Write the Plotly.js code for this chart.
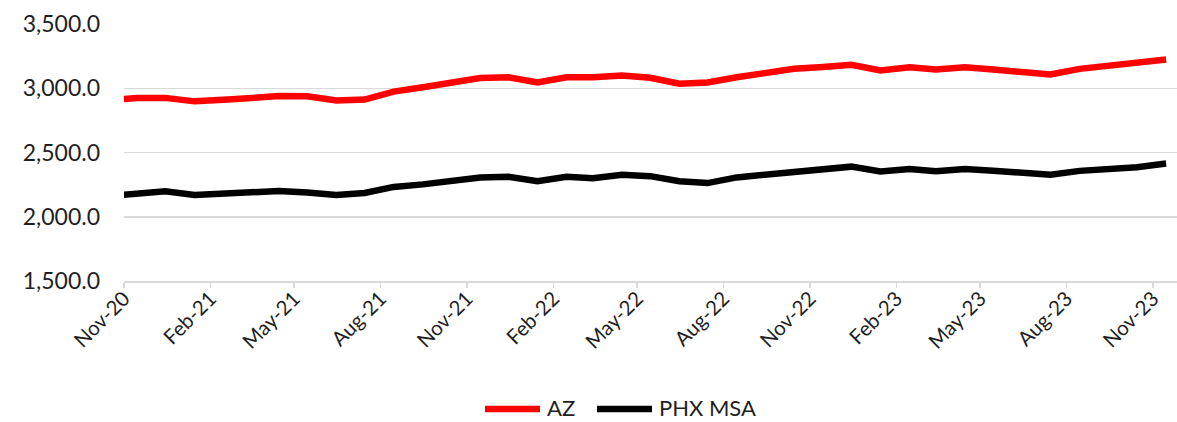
<!DOCTYPE html>
<html>
<head>
<meta charset="utf-8">
<script src="https://cdn.plot.ly/plotly-3.0.1.min.js"></script>
<style>
  html, body { margin: 0; padding: 0; background: #fff; }
  #chart { width: 1177px; height: 422px; }
</style>
</head>
<body>
<div id="chart"></div>
<script>
// Monthly observations (mid-month dates)
const dates = [
  '2020-10-15', '2020-11-15', '2020-12-15',
  '2021-01-15', '2021-02-15', '2021-03-15', '2021-04-15', '2021-05-15', '2021-06-15',
  '2021-07-15', '2021-08-15', '2021-09-15', '2021-10-15', '2021-11-15', '2021-12-15',
  '2022-01-15', '2022-02-15', '2022-03-15', '2022-04-15', '2022-05-15', '2022-06-15',
  '2022-07-15', '2022-08-15', '2022-09-15', '2022-10-15', '2022-11-15', '2022-12-15',
  '2023-01-15', '2023-02-15', '2023-03-15', '2023-04-15', '2023-05-15', '2023-06-15',
  '2023-07-15', '2023-08-15', '2023-09-15', '2023-10-15', '2023-11-15'
];

const azValues = [
  2904, 2925, 2925,
  2898, 2910, 2923, 2939, 2937, 2905,
  2912, 2974, 3008, 3045, 3080, 3086,
  3045, 3086, 3086, 3099, 3081, 3035,
  3045, 3086, 3120, 3151, 3166, 3183,
  3138, 3164, 3146, 3164, 3146, 3120,
  3107, 3151, 3177, 3195, 3224
];

const phxValues = [
  2160, 2183, 2198,
  2170, 2180, 2190, 2200, 2188, 2170,
  2185, 2232, 2252, 2278, 2305, 2311,
  2277, 2311, 2300, 2326, 2316, 2276,
  2262, 2306, 2327, 2350, 2368, 2390,
  2352, 2371, 2354, 2371, 2358, 2344,
  2327, 2357, 2371, 2385, 2414
];

const seriesNames = ['AZ', 'PHX MSA'];
const seriesColors = ['#ff0000', '#000000'];

const tickDates = [
  '2020-11-01', '2021-02-01', '2021-05-01', '2021-08-01', '2021-11-01',
  '2022-02-01', '2022-05-01', '2022-08-01', '2022-11-01',
  '2023-02-01', '2023-05-01', '2023-08-01', '2023-11-01'
];
const tickLabels = [
  'Nov-20', 'Feb-21', 'May-21', 'Aug-21', 'Nov-21',
  'Feb-22', 'May-22', 'Aug-22', 'Nov-22',
  'Feb-23', 'May-23', 'Aug-23', 'Nov-23'
];

const FONT = 'Lato, "Open Sans", "DejaVu Sans", sans-serif';
const TEXT = '#1f1f1f';
const GRID = '#d9d9d9';
const LINE_W = 6.5;

const W = 1177, H = 422;
const M = { l: 124, r: 0, t: 24, b: 141 };
const plotW = W - M.l - M.r, plotH = H - M.t - M.b;
// pixel -> paper helpers for the hand-placed legend
const px = x => (x - M.l) / plotW;
const py = y => (H - M.b - y) / plotH;

const traces = [azValues, phxValues].map((vals, i) => ({
  type: 'scatter',
  mode: 'lines',
  x: dates,
  y: vals,
  name: seriesNames[i],
  line: { color: seriesColors[i], width: LINE_W },
  hoverinfo: 'x+y+name'
}));

// legend: line sample + label for each series
const legendLineY = 409;
const legendTextY = 407.5;
const legendItems = [
  { x0: 485, x1: 540, tx: 545 },
  { x0: 597, x1: 652, tx: 657 }
];
const shapes = legendItems.map((it, i) => ({
  type: 'line', xref: 'paper', yref: 'paper',
  x0: px(it.x0), x1: px(it.x1), y0: py(legendLineY), y1: py(legendLineY),
  line: { color: seriesColors[i], width: LINE_W }
}));
const annotations = legendItems.map((it, i) => ({
  xref: 'paper', yref: 'paper',
  x: px(it.tx), y: py(legendTextY),
  xanchor: 'left', yanchor: 'middle',
  text: seriesNames[i], showarrow: false,
  font: { family: FONT, size: 22, color: TEXT }
}));

const layout = {
  width: W, height: H,
  margin: M,
  paper_bgcolor: '#ffffff',
  plot_bgcolor: '#ffffff',
  showlegend: false,
  font: { family: FONT, size: 20, color: TEXT },
  xaxis: {
    type: 'date',
    range: ['2020-11-01', '2023-11-26 14:00'],
    tickmode: 'array',
    tickvals: tickDates,
    ticktext: tickLabels,
    tickangle: -45,
    ticks: 'outside', ticklen: 5, tickwidth: 1.5, tickcolor: GRID,
    showline: true, linecolor: GRID, linewidth: 1.5,
    showgrid: false, zeroline: false,
    ticklabelstandoff: -9,
    tickfont: { family: FONT, size: 20.5, color: TEXT }
  },
  yaxis: {
    range: [1500, 3500],
    tickmode: 'array',
    tickvals: [1500, 2000, 2500, 3000, 3500],
    tickformat: ',.1f',
    showgrid: true, gridcolor: GRID, gridwidth: 1.5,
    showline: false, zeroline: false, ticks: '',
    ticklabelstandoff: 23,
    tickfont: { family: FONT, size: 23, color: TEXT }
  },
  shapes: shapes,
  annotations: annotations
};

Plotly.newPlot('chart', traces, layout, { displayModeBar: false, staticPlot: true });
</script>
</body>
</html>
